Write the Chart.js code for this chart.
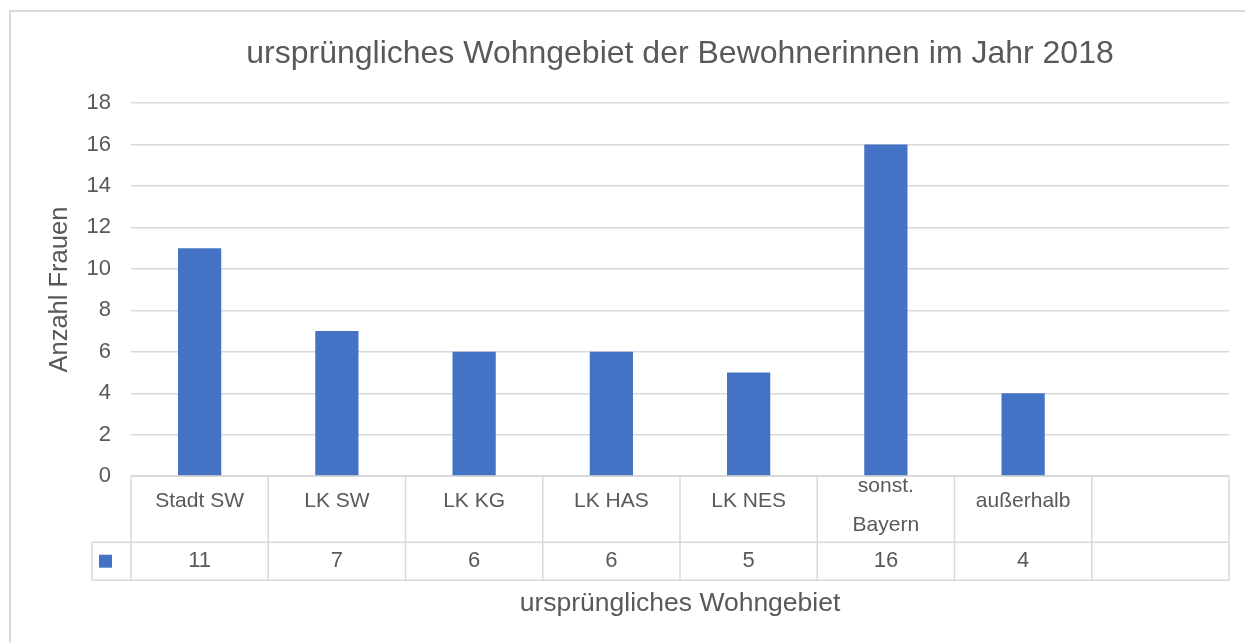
<!DOCTYPE html>
<html><head><meta charset="utf-8">
<script src="https://cdn.jsdelivr.net/npm/chart.js@4.4.0/dist/chart.umd.min.js"></script>
<style>html,body{margin:0;padding:0;background:#fff}#wrap{width:1245px;height:643px}</style>
</head><body><div id="wrap"><canvas id="c" width="1245" height="643"></canvas></div>
<script>
const chartTitle = 'ursprüngliches Wohngebiet der Bewohnerinnen im Jahr 2018';
const yAxisTitle = 'Anzahl Frauen';
const xAxisTitle = 'ursprüngliches Wohngebiet';
const categories = [['Stadt SW'], ['LK SW'], ['LK KG'], ['LK HAS'], ['LK NES'], ['sonst.', 'Bayern'], ['außerhalb'], ['']];
const seriesValues = [11, 7, 6, 6, 5, 16, 4, null];
const valueLabels = ['11', '7', '6', '6', '5', '16', '4', ''];
const yTickMin = 0, yTickMax = 18, yTickStep = 2;

const TEXT = '#595959', LINE = '#d9d9d9', BAR = '#4472C4';
const FONT = '"Liberation Sans", Arial, sans-serif';

const frame = {
  id: 'frame',
  beforeDraw(chart) {
    const ctx = chart.ctx;
    ctx.save();
    ctx.fillStyle = '#fff';
    ctx.fillRect(0, 0, chart.width, chart.height);
    ctx.strokeStyle = LINE; ctx.lineWidth = 2;
    ctx.strokeRect(10, 11, chart.width + 20, chart.height + 20);
    ctx.restore();
  }
};

const dataTable = {
  id: 'dataTable',
  afterDraw(chart) {
    const {ctx, chartArea: ca, scales: {x}} = chart;
    const n = categories.length;
    const cw = (ca.right - ca.left) / n;
    const top = ca.bottom, r1 = top + 66, r2 = r1 + 38;
    const legLeft = ca.left - 39;
    ctx.save();
    ctx.strokeStyle = LINE; ctx.lineWidth = 1.5;
    const line = (a, b, c, d) => { ctx.beginPath(); ctx.moveTo(a, b); ctx.lineTo(c, d); ctx.stroke(); };
    line(ca.left, top, ca.right, top);
    line(legLeft, r1, ca.right, r1);
    line(legLeft, r2, ca.right, r2);
    for (let i = 0; i <= n; i++) {
      const xx = i < n ? x.getPixelForValue(i) - cw / 2 : x.getPixelForValue(n - 1) + cw / 2;
      line(xx, top, xx, r2);
    }
    line(legLeft, r1, legLeft, r2);
    ctx.fillStyle = BAR;
    ctx.fillRect(legLeft + 7, (r1 + r2) / 2 - 6.5, 13, 13);
    ctx.fillStyle = TEXT;
    ctx.textAlign = 'center'; ctx.textBaseline = 'middle';
    for (let i = 0; i < n; i++) {
      const cx = x.getPixelForValue(i);
      const lab = categories[i];
      ctx.font = '21px ' + FONT;
      if (lab.length === 1) {
        ctx.fillText(lab[0], cx, top + 25);
      } else {
        ctx.fillText(lab[0], cx, top + 10);
        ctx.fillText(lab[1], cx, top + 49);
      }
      ctx.font = '22px ' + FONT;
      ctx.fillText(valueLabels[i], cx, (r1 + r2) / 2);
    }
    ctx.restore();
  }
};

new Chart(document.getElementById('c'), {
  type: 'bar',
  data: {
    labels: categories,
    datasets: [{ label: 'Anzahl', data: seriesValues, backgroundColor: BAR, barPercentage: 0.315, categoryPercentage: 1 }]
  },
  options: {
    responsive: false, animation: false, devicePixelRatio: 1,
    layout: { padding: { left: 0, right: 16, top: 0, bottom: 23 } },
    plugins: {
      legend: { display: false }, tooltip: { enabled: false },
      title: { display: true, text: chartTitle, fullSize: false, color: TEXT,
        font: { family: FONT, size: 32, weight: 'normal', lineHeight: 1.2 },
        padding: { top: 35, bottom: 29.6 } }
    },
    scales: {
      x: {
        ticks: { display: false },
        grid: { display: false, drawTicks: false }, border: { display: false },
        title: { display: true, text: xAxisTitle, color: TEXT,
          font: { family: FONT, size: 26.5, lineHeight: 1.2 }, padding: { top: 112, bottom: 0 } }
      },
      y: {
        min: yTickMin, max: yTickMax,
        ticks: { stepSize: yTickStep, color: TEXT, padding: 20, font: { family: FONT, size: 22 } },
        grid: { color: LINE, lineWidth: 1.5, drawTicks: false },
        border: { display: false },
        title: { display: true, text: yAxisTitle, color: TEXT,
          font: { family: FONT, size: 25.5, lineHeight: 1.2 }, padding: { top: 45, bottom: 0 } },
        afterFit(scale) { scale.width = 131; }
      }
    }
  },
  plugins: [frame, dataTable]
});
</script></body></html>
